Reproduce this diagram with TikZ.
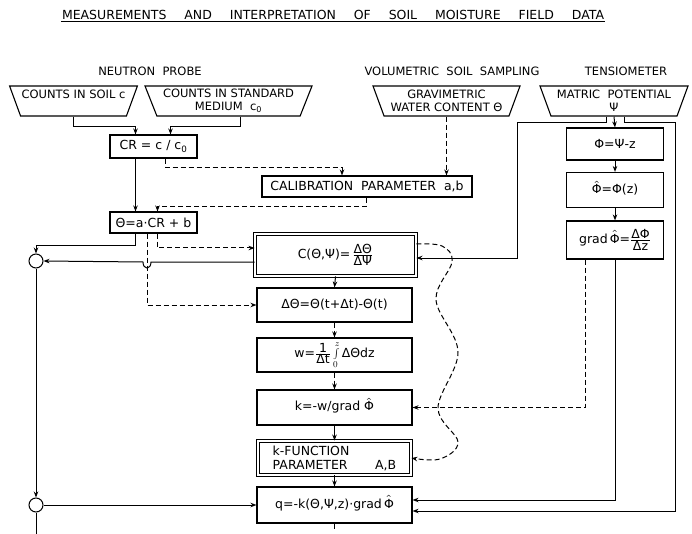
\documentclass[tikz,border=0pt]{standalone}
\usepackage{fontspec}
\setmainfont{DejaVu Sans}
\usetikzlibrary{arrows.meta, shapes.geometric, calc, positioning}
\newcommand{\Phat}{\ooalign{Φ\cr\hidewidth\raisebox{0.62em}{\scriptsize\^{}}\hidewidth\cr}}
\newcommand{\dfr}[2]{\ensuremath{\frac{\mbox{#1}}{\mbox{#2}}}}

\begin{document}
\begin{tikzpicture}[x=1pt, y=-1pt,
  txt/.style={font=\fontsize{12.5}{14}\selectfont},
  box/.style={draw, line width=1.1pt, minimum width=155pt, minimum height=34pt, inner sep=2pt, txt, align=center},
  dbox/.style={box, line width=0.9pt, double, double distance=1.8pt},
  src/.style={draw, line width=1.1pt, trapezium, shape border rotate=180, trapezium stretches body,
    trapezium angle=65, minimum height=30pt, inner sep=1pt, font=\fontsize{11.5}{13}\selectfont, align=center},
  arr/.style={-{Stealth[length=6pt,width=4.5pt]}, line width=1pt},
  dsh/.style={dash pattern=on 5pt off 3pt},
  sum/.style={draw, circle, line width=1pt, minimum size=14pt, inner sep=0pt}]
\useasboundingbox (0,0) rectangle (692,534);
% title and headings
\node[font=\fontsize{12.5}{14}\selectfont, inner sep=1pt] (title) at (333,15) {\hbox to 542pt{MEASUREMENTS\hfill AND\hfill INTERPRETATION\hfill OF\hfill SOIL\hfill MOISTURE\hfill FIELD\hfill DATA}};
\draw[line width=0.9pt] ([yshift=-1pt]title.south west) -- ([yshift=-1pt]title.south east);
\node[font=\fontsize{11.5}{13}\selectfont] (hnp) at (150,71) {NEUTRON\ \ PROBE};
\node[font=\fontsize{11.5}{13}\selectfont] (hvs) at (452,71) {VOLUMETRIC\ \ SOIL\ \ SAMPLING};
\node[font=\fontsize{11.5}{13}\selectfont] (hte) at (626,71) {TENSIOMETER};
% sources
\node[src, minimum width=123pt] (t1) at (73.5,101) {COUNTS IN SOIL c\\\mbox{}};
\node[src, minimum width=167pt] (t2) at (228.5,101) {COUNTS IN STANDARD\\MEDIUM\ \ c\textsubscript{0}};
\node[src, minimum width=147pt] (t3) at (446.5,101) {GRAVIMETRIC\\WATER CONTENT Θ};
\node[src, minimum width=148pt] (t4) at (614,101) {MATRIC\ \ POTENTIAL\\Ψ};
% left column
\node[box, minimum width=87pt, minimum height=23pt] (cr) at (153.5,146.5) {CR = c / c\textsubscript{0}};
\node[box, minimum width=210pt, minimum height=21pt] (cal) at (367,186.5) {CALIBRATION\ \ PARAMETER\ \ a,b};
\node[box, minimum width=87pt, minimum height=21pt] (th) at (153.5,222.5) {Θ=a·CR + b};
\node[sum] (c1) at (36,261) {};
\node[sum] (c2) at (36,505) {};
% middle column
\node[dbox, minimum width=161pt, minimum height=42pt] (cb) at (335.5,255) {C(Θ,Ψ)=\,\dfr{ΔΘ}{ΔΨ}};
\node[box] (dth) at (334.5,305) {ΔΘ=Θ(t+Δt)-Θ(t)};
\node[box] (w) at (334.5,355) {w=\dfr{1}{Δt}\,$\int\limits_0^z$\,ΔΘdz};
\node[box, minimum height=35pt] (k) at (334.5,407.5) {k=-w/grad \Phat};
\node[dbox, minimum width=153pt, minimum height=34pt, align=left] (kf) at (334.5,458) {k-FUNCTION\\PARAMETER\hspace{2.2em}A,B\hspace{1.2em}};
\node[box, minimum height=36pt] (q) at (334.5,505) {q=-k(Θ,Ψ,z)·grad\,\Phat};
% right column
\node[box, minimum width=97pt, minimum height=32pt] (phi) at (615,144) {Φ=Ψ-z};
\node[box, minimum width=97pt, minimum height=35pt] (phih) at (615,190) {\Phat=Φ(z)};
\node[box, minimum width=97pt, minimum height=38pt] (grad) at (615,240) {grad\,\Phat=\dfr{ΔΦ}{Δz}};
% neutron probe paths
\draw[arr] (t1.south) -- ++(0,10) -| ([xshift=-18pt]cr.north);
\draw[arr] ([xshift=12pt]t2.south) -- ++(0,10) -| ([xshift=17pt]cr.north);
\draw[arr] ([xshift=-18pt]cr.south) -- ([xshift=-18pt]th.north);
\draw[arr, dsh] ([xshift=12pt]cr.south) -- ++(0,9) -| ([xshift=-25pt]cal.north);
\draw[arr, dsh] (t3.south) -- (t3.south |- cal.north);
\draw[arr, dsh] ([xshift=-1pt]cal.south) -- ++(0,9) -| ([xshift=4pt]th.north);
\draw[arr] ([xshift=-18pt]th.south) -- ++(0,12) -| (c1.north);
\draw[arr, dsh] ([xshift=4pt]th.south) |- ([yshift=7pt]cb.west);
\draw[arr, dsh] ([xshift=-6.5pt]th.south) |- (dth.west);
\coordinate (hopR) at (151,262);
\coordinate (hopL) at (143,262);
\draw[arr] ([yshift=-7pt]cb.west) -- (hopR) .. controls (151,270) and (143,270) .. (hopL) -- (c1.east);
\draw[arr] (c1.south) -- (c2.north);
\draw[arr] (c2.east) -- (q.west);
\draw[line width=1pt] (c2.south) -- ++(0,30);
% middle chain
\draw[arr] (cb.south) -- (dth.north);
\draw[arr, dsh] (dth.south) -- (w.north);
\draw[arr, dsh] (w.south) -- (k.north);
\draw[arr] (k.south) -- (kf.north);
\draw[arr] (kf.south) -- (q.north);
\draw[dsh, line width=1pt] (q.south) -- ++(0,8);
\coordinate (wv0) at ([yshift=11pt]cb.east);
\draw[arr, dsh] plot[smooth, tension=0.6] coordinates {(wv0) (442,246) (452,262) (436,300) (458,352) (438,408) (458,442) (440,459) (kf.east)};
% tensiometer paths
\coordinate (rA) at (517,200);
\coordinate (rB) at (675,300);
\draw[arr] (t4.south) -- (phi.north);
\draw[arr] ([xshift=-8pt]t4.south) -- ++(0,6) -| (rA) |- ([yshift=-3pt]cb.east);
\draw[arr] ([xshift=10pt]t4.south) -- ++(0,6) -| (rB) |- ([yshift=-6pt]q.east);
\draw[arr] (phi.south) -- (phih.north);
\draw[arr] (phih.south) -- (grad.north);
\draw[arr, dsh] ([xshift=-30pt]grad.south) |- (k.east);
\draw[arr] (grad.south) |- ([yshift=5pt]q.east);
\end{tikzpicture}
\end{document}
